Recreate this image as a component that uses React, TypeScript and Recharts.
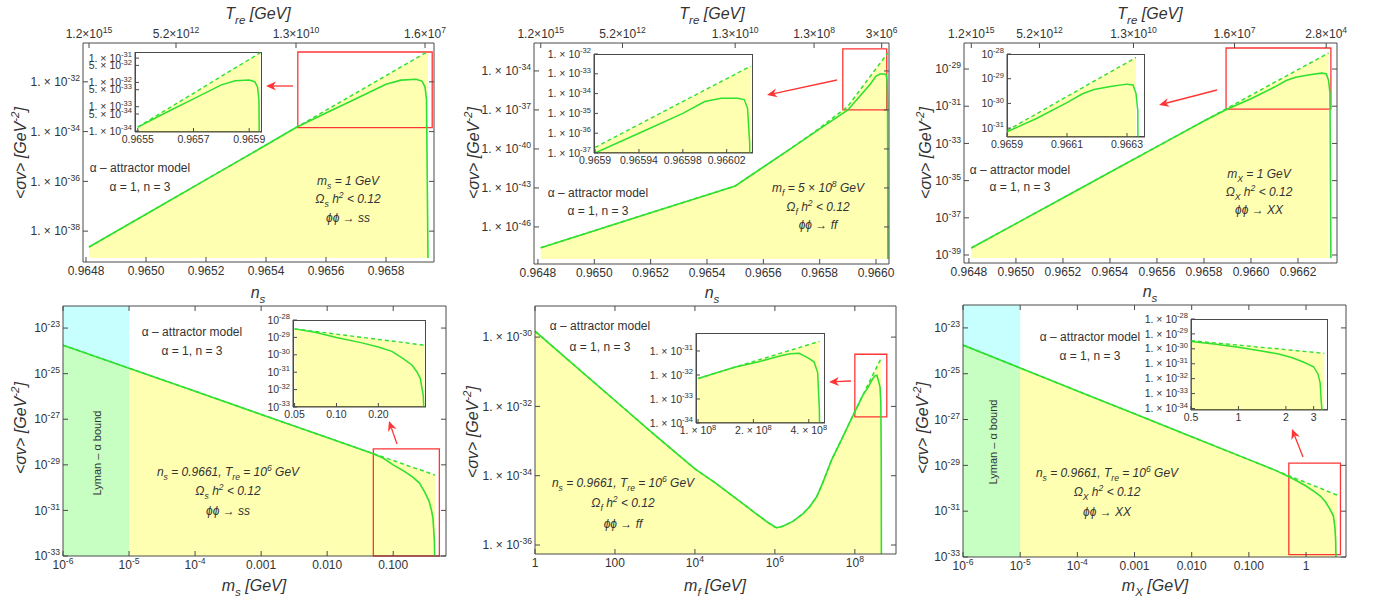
import React from "react";
import { Area, ComposedChart, Line, ReferenceArea, XAxis, YAxis } from "recharts";

const FONT = "'Liberation Sans', Arial, sans-serif";
const GREEN = "#30e030";
const RED = "#ff3535";
const FRAME = "#4a4a4a";
const INK = "#333";

// (a) phi phi -> ss, <sigma v> against n_s
const nsA = [0.96481, 0.965, 0.9652, 0.9654, 0.9655, 0.9656, 0.9657, 0.9658, 0.96585, 0.9659, 0.96592, 0.96593, 0.965935, 0.96594];
const envA = [2.29e-39, 4.79e-38, 1.17e-36, 2.88e-35, 1.45e-34, 7.24e-34, 3.55e-33, 1.78e-32, 3.98e-32, 8.71e-32, 1.2e-31, 1.41e-31, 1.51e-31, 1.66e-31];
const solA = [2.29e-39, 4.79e-38, 1.17e-36, 2.88e-35, 1.45e-34, 5.62e-34, 2.09e-33, 7.94e-33, 1.17e-32, 1.26e-32, 1.07e-32, 6.31e-33, 2.0e-33, 8.3e-40];

// (b) phi phi -> ff, against n_s
const nsB = [0.96481, 0.965, 0.9652, 0.9654, 0.9655, 0.9656, 0.9657, 0.9658, 0.9659, 0.96594, 0.96598, 0.966, 0.966015, 0.96603, 0.966036, 0.966039, 0.966041, 0.966042];
const envB = [2.51e-48, 5.13e-47, 1.23e-45, 2.88e-44, 1.41e-43, 4.07e-42, 1.17e-40, 3.98e-39, 1.91e-37, 2.75e-36, 3.98e-35, 1.51e-34, 4.07e-34, 1.1e-33, 1.66e-33, 2.0e-33, 2.14e-33, 2.29e-33];
const solB = [2.51e-48, 5.13e-47, 1.23e-45, 2.88e-44, 1.41e-43, 4.07e-42, 1.17e-40, 3.47e-39, 1.0e-37, 1.0e-36, 1.0e-35, 3.98e-35, 5.89e-35, 5.89e-35, 5.01e-35, 1.86e-35, 3.16e-37, 3.47e-49];

// (c) phi phi -> XX, against n_s
const nsC = [0.96481, 0.965, 0.9652, 0.9654, 0.9656, 0.9658, 0.9659, 0.966, 0.9661, 0.96615, 0.96619, 0.96625, 0.9663, 0.96632, 0.96633, 0.966336, 0.96634];
const envC = [2.4e-39, 4.9e-38, 1.17e-36, 2.82e-35, 6.76e-34, 1.62e-32, 7.94e-32, 3.89e-31, 1.91e-30, 4.17e-30, 7.94e-30, 2.04e-29, 4.47e-29, 6.17e-29, 7.24e-29, null, null];
const solC = [2.4e-39, 4.9e-38, 1.17e-36, 2.82e-35, 6.76e-34, 1.62e-32, 7.08e-32, 2.51e-31, 1.07e-30, 2.4e-30, 3.63e-30, 4.9e-30, 6.03e-30, 5.62e-30, 2.51e-30, 5.01e-31, 6.9e-40];

// (d) phi phi -> ss, against m_s [GeV]
const mD = [1e-6, 1e-5, 1e-4, 1e-3, 0.01, 0.05, 0.07, 0.1, 0.15, 0.2, 0.25, 0.3, 0.35, 0.38, 0.4, 0.42, 0.43];
const envD = [1.78e-24, 1.74e-25, 1.7e-26, 1.62e-27, 1.58e-28, 3.09e-29, 2.19e-29, 1.55e-29, 1.02e-29, 7.59e-30, 6.17e-30, 5.13e-30, 4.37e-30, 3.98e-30, 3.8e-30, 3.63e-30, 3.55e-30];
const solD = [1.78e-24, 1.74e-25, 1.7e-26, 1.62e-27, 1.58e-28, 3.09e-29, 2.0e-29, 1.0e-29, 5.01e-30, 2.82e-30, 1.58e-30, 6.31e-31, 2.51e-31, 1.0e-31, 4.47e-32, 5.01e-33, 1e-34];

// (e) phi phi -> ff, against m_f [GeV]
const mE = [1, 10, 100, 1e3, 1e4, 3.16e4, 1e5, 3.16e5, 6.31e5, 1e6, 1.12e6, 1.58e6, 2.82e6, 5.01e6, 7.5e6, 1.12e7, 1.58e7, 2.63e7, 5.01e7, 1e8, 1.58e8, 2.14e8, 2.51e8, 2.82e8, 3.16e8, 3.55e8, 3.98e8, 4.27e8, 4.47e8, 4.57e8, 4.62e8];
const envE = [1.48e-30, 1.48e-31, 1.48e-32, 1.48e-33, 1.58e-34, 6.31e-35, 2.34e-35, 8.51e-36, 4.68e-36, 3.31e-36, 3.16e-36, 3.47e-36, 4.79e-36, 7.94e-36, 1.29e-35, 2.51e-35, 6.31e-35, 2.88e-34, 1.32e-33, 7.08e-33, 2.09e-32, 4.27e-32, 6.17e-32, 8.13e-32, 1.05e-31, 1.38e-31, 1.82e-31, 2.14e-31, 2.4e-31, 2.51e-31, null];
const solE = [1.48e-30, 1.48e-31, 1.48e-32, 1.48e-33, 1.58e-34, 6.31e-35, 2.34e-35, 8.51e-36, 4.68e-36, 3.31e-36, 3.16e-36, 3.47e-36, 4.79e-36, 7.94e-36, 1.29e-35, 2.51e-35, 6.31e-35, 2.88e-34, 1.32e-33, 7.08e-33, 2.09e-32, 3.55e-32, 5.01e-32, 6.31e-32, 7.59e-32, 7.94e-32, 5.01e-32, 3.55e-32, 1.26e-32, 3.16e-34, 1e-37];

// (f) phi phi -> XX, against m_X [GeV]
const mF = [1e-6, 1e-5, 1e-4, 1e-3, 0.01, 0.1, 0.3, 0.5, 0.7, 1, 1.4, 1.8, 2.2, 2.6, 3.0, 3.2, 3.3, 3.35, 3.4, 3.5];
const envF = [1.78e-24, 1.78e-25, 1.78e-26, 1.78e-27, 1.78e-28, 1.78e-29, 5.89e-30, 3.55e-30, 2.51e-30, 1.78e-30, 1.26e-30, 1.0e-30, 7.94e-31, 6.76e-31, 5.89e-31, 5.5e-31, 5.37e-31, 5.25e-31, 5.2e-31, 5.01e-31];
const solF = [1.78e-24, 1.78e-25, 1.78e-26, 1.78e-27, 1.78e-28, 1.78e-29, 5.89e-30, 3.16e-30, 2.09e-30, 1.26e-30, 7.08e-31, 4.47e-31, 2.51e-31, 1.26e-31, 6.31e-32, 2.0e-32, 5.01e-33, 3.16e-34, 5e-35, null];

// tick values and their labels
const nsTicksA = [0.9648, 0.965, 0.9652, 0.9654, 0.9656, 0.9658];
const nsTicksB = [0.9648, 0.965, 0.9652, 0.9654, 0.9656, 0.9658, 0.966];
const nsTicksC = [0.9648, 0.965, 0.9652, 0.9654, 0.9656, 0.9658, 0.966, 0.9662];
const treTicksA = [0.96481, 0.9651, 0.9655, 0.96593];
const treLabelsA = ["1.2×10^{15}", "5.2×10^{12}", "1.3×10^{10}", "1.6×10^{7}"];
const treTicksB = [0.96481, 0.9651, 0.9655, 0.96578, 0.96602];
const treLabelsB = ["1.2×10^{15}", "5.2×10^{12}", "1.3×10^{10}", "1.3×10^{8}", "3×10^{6}"];
const treTicksC = [0.96481, 0.9651, 0.9655, 0.96593, 0.96632];
const treLabelsC = ["1.2×10^{15}", "5.2×10^{12}", "1.3×10^{10}", "1.6×10^{7}", "2.8×10^{4}"];
const yTicksA = [1e-38, 1e-36, 1e-34, 1e-32];
const yTicksB = [1e-46, 1e-43, 1e-40, 1e-37, 1e-34];
const yTicksC = [1e-39, 1e-37, 1e-35, 1e-33, 1e-31, 1e-29];
const yTicksDF = [1e-33, 1e-31, 1e-29, 1e-27, 1e-25, 1e-23];
const yTicksE = [1e-36, 1e-34, 1e-32, 1e-30];
const mTicksD = [1e-6, 1e-5, 1e-4, 1e-3, 0.01, 0.1];
const mLabelsD = ["10^{-6}", "10^{-5}", "10^{-4}", "0.001", "0.010", "0.100"];
const mTicksE = [1, 100, 1e4, 1e6, 1e8];
const mLabelsE = ["1", "100", "10^{4}", "10^{6}", "10^{8}"];
const mTicksF = [1e-6, 1e-5, 1e-4, 1e-3, 0.01, 0.1, 1];
const mLabelsF = ["10^{-6}", "10^{-5}", "10^{-4}", "0.001", "0.010", "0.100", "1"];

// inset ticks
const inXA = [0.9655, 0.9657, 0.9659];
const inYA = [1e-34, 5e-34, 1e-33, 5e-33, 1e-32, 5e-32, 1e-31];
const inYLabelsA = ["1. × 10^{-34}", "5. × 10^{-34}", "1. × 10^{-33}", "5. × 10^{-33}", "1. × 10^{-32}", "5. × 10^{-32}", "1. × 10^{-31}"];
const inXB = [0.9659, 0.96594, 0.96598, 0.96602];
const inYB = [1e-37, 1e-36, 1e-35, 1e-34, 1e-33, 1e-32];
const inXC = [0.9659, 0.9661, 0.9663];
const inYC = [1e-31, 1e-30, 1e-29, 1e-28];
const inXD = [0.05, 0.1, 0.2];
const inXLabelsD = ["0.05", "0.10", "0.20"];
const inYD = [1e-33, 1e-32, 1e-31, 1e-30, 1e-29, 1e-28];
const inXE = [1e8, 2e8, 4e8];
const inXLabelsE = ["1. × 10^{8}", "2. × 10^{8}", "4. × 10^{8}"];
const inYE = [1e-34, 1e-33, 1e-32, 1e-31];
const inXF = [0.5, 1, 2, 3];
const inXLabelsF = ["0.5", "1", "2", "3"];
const inYF = [1e-34, 1e-33, 1e-32, 1e-31, 1e-30, 1e-29, 1e-28];

type Row = { x: number; env: number | null; sol: number | null };
const rows = (xs: number[], env: (number | null)[], sol: (number | null)[]): Row[] =>
  xs.map((x, i) => ({ x, env: env[i], sol: sol[i] }));

const expLabel = (v: number) => `10^{${Math.round(Math.log10(v))}}`;
const sciLabel = (v: number) => `1. × 10^{${Math.round(Math.log10(v))}}`;
const fixed4 = (v: number) => v.toFixed(4);

// text with _{..} and ^{..} parts
function rich(s: string, fs: number) {
  const parts = s.split(/([_^]\{[^}]*\})/).filter(Boolean);
  let shift = 0;
  return parts.map((p, k) => {
    if (p[0] === "_" || p[0] === "^") {
      const d = p[0] === "_" ? fs * 0.3 : -fs * 0.42;
      const el = (
        <tspan key={k} dy={d - shift} fontSize={fs * 0.72}>
          {p.slice(2, -1)}
        </tspan>
      );
      shift = d;
      return el;
    }
    const el = (
      <tspan key={k} dy={-shift}>
        {p}
      </tspan>
    );
    shift = 0;
    return el;
  });
}

function makeTick(values: number[], labels: string[] | null, side: "left" | "bottom" | "top", fs: number) {
  return (props: any) => {
    const { x, y, payload } = props;
    if (!labels) return <text />;
    const i = values.findIndex((v) => Math.abs(v - payload.value) <= Math.abs(v) * 1e-9);
    const label = i >= 0 ? labels[i] : "";
    let ty = y;
    let anchor = "middle";
    if (side === "left") {
      anchor = "end";
      ty = y + fs * 0.35;
    } else if (side === "bottom") {
      ty = y + fs * 0.85;
    }
    return (
      <text x={x} y={ty} textAnchor={anchor} fontSize={fs} fontFamily={FONT} fill={INK}>
        {rich(label, fs)}
      </text>
    );
  };
}

type PanelProps = {
  frame: [number, number, number, number];
  data: Row[];
  xDomain: [number, number];
  xLog?: boolean;
  xTicks: number[];
  xLabels: string[];
  yDomain: [number, number];
  yTicks: number[];
  yLabels: string[];
  topTicks?: number[];
  topLabels?: string[];
  base: number;
  box: [number, number, number, number];
  lyman?: [number, number];
};

const LW = 80;
const RW = 34;
const TH = 34;
const BH = 28;

function Panel(p: PanelProps) {
  const [fx, fy, fw, fh] = p.frame;
  const topTicks = p.topTicks ?? p.xTicks;
  const xScale = p.xLog ? "log" : "linear";
  return (
    <div style={{ position: "absolute", left: fx - LW, top: fy - TH }}>
      <ComposedChart width={fw + LW + RW} height={fh + TH + BH} data={p.data} margin={{ top: 0, right: 0, bottom: 0, left: 0 }}>
        <XAxis xAxisId="b" dataKey="x" type="number" scale={xScale} domain={p.xDomain} allowDataOverflow ticks={p.xTicks} interval={0}
          height={BH} tickSize={-5} tickMargin={8} stroke={FRAME} tick={makeTick(p.xTicks, p.xLabels, "bottom", 12)} />
        <XAxis xAxisId="t" dataKey="x" orientation="top" type="number" scale={xScale} domain={p.xDomain} allowDataOverflow ticks={topTicks} interval={0}
          height={TH} tickSize={-5} tickMargin={10} stroke={FRAME} tick={makeTick(topTicks, p.topLabels ?? null, "top", 12)} />
        <YAxis yAxisId="l" type="number" scale="log" domain={p.yDomain} allowDataOverflow ticks={p.yTicks} interval={0}
          width={LW} tickSize={-5} tickMargin={8} stroke={FRAME} tick={makeTick(p.yTicks, p.yLabels, "left", 12)} />
        <YAxis yAxisId="r" orientation="right" type="number" scale="log" domain={p.yDomain} allowDataOverflow ticks={p.yTicks} interval={0}
          width={RW} tickSize={-5} tickMargin={8} stroke={FRAME} tick={makeTick(p.yTicks, null, "left", 12)} />
        <Area xAxisId="b" yAxisId="l" dataKey="env" type="linear" stroke="none" fill="#ffff00" fillOpacity={0.3} baseValue={p.base} isAnimationActive={false} />
        {p.lyman && (
          <ReferenceArea xAxisId="b" yAxisId="l" x1={p.lyman[0]} x2={p.lyman[1]} fill="#00ffff" fillOpacity={0.22} stroke="none" />
        )}
        <Line xAxisId="b" yAxisId="l" dataKey="env" type="linear" stroke={GREEN} strokeWidth={1.5} strokeDasharray="4 3" dot={false} isAnimationActive={false} />
        <Line xAxisId="b" yAxisId="l" dataKey="sol" type="linear" stroke={GREEN} strokeWidth={1.6} dot={false} isAnimationActive={false} />
        <Line xAxisId="t" yAxisId="r" dataKey="sol" stroke="none" dot={false} activeDot={false} isAnimationActive={false} />
        <ReferenceArea xAxisId="b" yAxisId="l" x1={p.box[0]} x2={p.box[1]} y1={p.box[2]} y2={p.box[3]} fill="none" stroke={RED} strokeWidth={1.3} ifOverflow="visible" />
      </ComposedChart>
    </div>
  );
}

type InsetProps = {
  frame: [number, number, number, number];
  data: Row[];
  xDomain: [number, number];
  xLog?: boolean;
  xTicks: number[];
  xLabels: string[];
  yDomain: [number, number];
  yTicks: number[];
  yLabels: string[];
};

const ILW = 70;
const ITH = 12;
const IRW = 22;
const IBH = 20;

function Inset(p: InsetProps) {
  const [fx, fy, fw, fh] = p.frame;
  return (
    <>
      <div style={{ position: "absolute", left: fx, top: fy, width: fw, height: fh, background: "#fff", border: `1px solid ${FRAME}`, boxSizing: "border-box" }} />
      <div style={{ position: "absolute", left: fx - ILW, top: fy - ITH }}>
        <ComposedChart width={fw + ILW + IRW} height={fh + ITH + IBH} data={p.data} margin={{ top: ITH, right: IRW, bottom: 0, left: 0 }}>
          <XAxis xAxisId="b" dataKey="x" type="number" scale={p.xLog ? "log" : "linear"} domain={p.xDomain} allowDataOverflow ticks={p.xTicks} interval={0}
            height={IBH} tickSize={-4} tickMargin={6} stroke={FRAME} tick={makeTick(p.xTicks, p.xLabels, "bottom", 10.5)} />
          <YAxis yAxisId="l" type="number" scale="log" domain={p.yDomain} allowDataOverflow ticks={p.yTicks} interval={0}
            width={ILW} tickSize={-4} tickMargin={7} stroke={FRAME} tick={makeTick(p.yTicks, p.yLabels, "left", 10.5)} />
          <Area xAxisId="b" yAxisId="l" dataKey="env" type="linear" stroke="none" fill="#ffff00" fillOpacity={0.3} baseValue={p.yDomain[0]} isAnimationActive={false} />
          <Line xAxisId="b" yAxisId="l" dataKey="env" type="linear" stroke={GREEN} strokeWidth={1.4} strokeDasharray="4 3" dot={false} isAnimationActive={false} />
          <Line xAxisId="b" yAxisId="l" dataKey="sol" type="linear" stroke={GREEN} strokeWidth={1.5} dot={false} isAnimationActive={false} />
        </ComposedChart>
      </div>
    </>
  );
}

const dataA = rows(nsA, envA, solA);
const dataB = rows(nsB, envB, solB);
const dataC = rows(nsC, envC, solC);
const dataD = rows(mD, envD, solD);
const dataE = rows(mE, envE, solE);
const dataF = rows(mF, envF, solF);
const from = (d: Row[], x0: number) => d.filter((r) => r.x >= x0 * (1 - 1e-9));

// annotation text: [x, y, text, italic]
const NOTES: [number, number, string, boolean][] = [
  [140, 172, "α – attractor model", false],
  [140, 191, "α = 1,  n = 3", false],
  [348, 185, "m_{s} = 1 GeV", true],
  [348, 203, "Ω_{s} h^{2} < 0.12", true],
  [348, 222, "ϕϕ → ss", true],
  [598, 197, "α – attractor model", false],
  [598, 215, "α = 1,  n = 3", false],
  [818, 192, "m_{f} = 5 × 10^{8} GeV", true],
  [818, 211, "Ω_{f} h^{2} < 0.12", true],
  [818, 229, "ϕϕ → ff", true],
  [1020, 174, "α – attractor model", false],
  [1020, 191, "α = 1,  n = 3", false],
  [1259, 178, "m_{X} = 1 GeV", true],
  [1259, 196, "Ω_{X} h^{2} < 0.12", true],
  [1259, 214, "ϕϕ → XX", true],
  [192, 336, "α – attractor model", false],
  [192, 355, "α = 1,  n = 3", false],
  [228, 476, "n_{s} = 0.9661,  T_{re} = 10^{6} GeV", true],
  [228, 495, "Ω_{s} h^{2} < 0.12", true],
  [228, 515, "ϕϕ → ss", true],
  [600, 330, "α – attractor model", false],
  [600, 351, "α = 1,  n = 3", false],
  [623, 487, "n_{s} = 0.9661,  T_{re} = 10^{6} GeV", true],
  [623, 507, "Ω_{f} h^{2} < 0.12", true],
  [623, 528, "ϕϕ → ff", true],
  [1090, 341, "α – attractor model", false],
  [1090, 360, "α = 1,  n = 3", false],
  [1107, 477, "n_{s} = 0.9661,  T_{re} = 10^{6} GeV", true],
  [1107, 496, "Ω_{X} h^{2} < 0.12", true],
  [1107, 516, "ϕϕ → XX", true],
];

const X_TITLES: [number, number, string][] = [
  [258, 19, "T_{re} [GeV]"],
  [712, 19, "T_{re} [GeV]"],
  [1150, 19, "T_{re} [GeV]"],
  [258, 298, "n_{s}"],
  [712, 298, "n_{s}"],
  [1150, 297, "n_{s}"],
  [254, 591, "m_{s} [GeV]"],
  [715, 591, "m_{f} [GeV]"],
  [1155, 591, "m_{X} [GeV]"],
];

const Y_TITLES: [number, number][] = [
  [26, 153],
  [479, 153],
  [931, 153],
  [26, 428],
  [478, 432],
  [928, 428],
];

const ARROWS: [number, number, number, number][] = [
  [293, 86, 266, 86],
  [837, 80, 767, 95],
  [1217, 90, 1159, 105],
  [397, 444, 389, 421],
  [851, 381, 829, 382],
  [1303, 457, 1292, 429],
];

function Arrow({ a }: { a: [number, number, number, number] }) {
  const [x1, y1, x2, y2] = a;
  const ang = Math.atan2(y2 - y1, x2 - x1);
  const L = 10;
  const W = 4.5;
  const c = Math.cos(ang);
  const s = Math.sin(ang);
  const bx = x2 - L * c;
  const by = y2 - L * s;
  const nx = bx + 3 * c;
  const ny = by + 3 * s;
  return (
    <g>
      <line x1={x1} y1={y1} x2={nx} y2={ny} stroke={RED} strokeWidth={1.3} />
      <polygon points={`${x2},${y2} ${bx - s * W},${by + c * W} ${nx},${ny} ${bx + s * W},${by - c * W}`} fill={RED} />
    </g>
  );
}

function Overlay() {
  return (
    <svg width={1373} height={602} style={{ position: "absolute", left: 0, top: 0, pointerEvents: "none" }}>
      {X_TITLES.map(([x, y, t], i) => (
        <text key={`xt${i}`} x={x} y={y} textAnchor="middle" fontSize={16} fontStyle="italic" fontFamily={FONT} fill={INK}>
          {rich(t, 16)}
        </text>
      ))}
      {Y_TITLES.map(([x, y], i) => (
        <text key={`yt${i}`} transform={`translate(${x},${y}) rotate(-90)`} textAnchor="middle" fontSize={16} fontStyle="italic" fontFamily={FONT} fill={INK}>
          {rich("<σv> [GeV^{-2}]", 16)}
        </text>
      ))}
      {NOTES.map(([x, y, t, it], i) => (
        <text key={`n${i}`} x={x} y={y} textAnchor="middle" fontSize={12} fontStyle={it ? "italic" : "normal"} fontFamily={FONT} fill={INK}>
          {rich(t, 12)}
        </text>
      ))}
      <text transform="translate(101,453) rotate(-90)" textAnchor="middle" fontSize={11} fontFamily={FONT} fill={INK}>
        Lyman – α bound
      </text>
      <text transform="translate(997,442) rotate(-90)" textAnchor="middle" fontSize={11} fontFamily={FONT} fill={INK}>
        Lyman – α bound
      </text>
      {ARROWS.map((a, i) => (
        <Arrow key={`a${i}`} a={a} />
      ))}
    </svg>
  );
}

export default function App() {
  return (
    <div style={{ position: "absolute", left: 0, top: 0, width: 1373, height: 602, background: "#fff", overflow: "hidden" }}>
      <Panel frame={[83, 43, 351, 219]} data={dataA} xDomain={[0.96479, 0.96596]} xTicks={nsTicksA} xLabels={nsTicksA.map(fixed4)}
        yDomain={[5.75e-40, 3.63e-31]} yTicks={yTicksA} yLabels={yTicksA.map(sciLabel)} topTicks={treTicksA} topLabels={treLabelsA}
        base={8.3e-40} box={[0.965506, 0.965954, 1.45e-34, 1.58e-31]} />
      <Panel frame={[534, 43, 355, 221]} data={dataB} xDomain={[0.964786, 0.966046]} xTicks={nsTicksB} xLabels={nsTicksB.map(fixed4)}
        yDomain={[1.41e-49, 1.41e-32]} yTicks={yTicksB} yLabels={yTicksB.map(sciLabel)} topTicks={treTicksB} topLabels={treLabelsB}
        base={3.47e-49} box={[0.965882, 0.966038, 1e-37, 5.0e-33]} />
      <Panel frame={[964, 43, 373, 220]} data={dataC} xDomain={[0.964779, 0.966366]} xTicks={nsTicksC} xLabels={nsTicksC.map(fixed4)}
        yDomain={[3.72e-40, 2.51e-28]} yTicks={yTicksC} yLabels={yTicksC.map(expLabel)} topTicks={treTicksC} topLabels={treLabelsC}
        base={6.9e-40} box={[0.965894, 0.96634, 6.9e-32, 1.35e-28]} />
      <Panel frame={[63, 306, 383, 250]} data={dataD} xDomain={[1e-6, 0.63]} xLog xTicks={mTicksD} xLabels={mLabelsD}
        yDomain={[1e-33, 9.3e-23]} yTicks={yTicksDF} yLabels={yTicksDF.map(expLabel)} base={1e-33}
        box={[0.05, 0.5, 1e-33, 5.0e-29]} lyman={[1e-6, 1e-5]} />
      <Panel frame={[535, 306, 361, 248]} data={dataE} xDomain={[1, 1.07e9]} xLog xTicks={mTicksE} xLabels={mLabelsE}
        yDomain={[5.5e-37, 7.9e-30]} yTicks={yTicksE} yLabels={yTicksE.map(sciLabel)} base={5.5e-37}
        box={[1e8, 6.3e8, 5.0e-33, 3.2e-31]} />
      <Panel frame={[963, 305, 383, 252]} data={dataF} xDomain={[1e-6, 5.0]} xLog xTicks={mTicksF} xLabels={mLabelsF}
        yDomain={[1e-33, 1e-22]} yTicks={yTicksDF} yLabels={yTicksDF.map(expLabel)} base={1e-33}
        box={[0.5, 4.0, 1.26e-33, 1.26e-29]} lyman={[1e-6, 1e-5]} />

      <Inset frame={[135, 52, 127, 80]} data={from(dataA, 0.9655)} xDomain={[0.96549, 0.965946]} xTicks={inXA} xLabels={inXA.map(fixed4)}
        yDomain={[9.1e-35, 1.78e-31]} yTicks={inYA} yLabels={inYLabelsA} />
      <Inset frame={[594, 54, 159, 99]} data={from(dataB, 0.9659)} xDomain={[0.965899, 0.966044]} xTicks={inXB} xLabels={inXB.map((v) => v.toFixed(5).replace(/0$/, ""))}
        yDomain={[1e-37, 1e-32]} yTicks={inYB} yLabels={inYB.map(sciLabel)} />
      <Inset frame={[1007, 54, 138, 83]} data={from(dataC, 0.9659)} xDomain={[0.9659, 0.96636]} xTicks={inXC} xLabels={inXC.map(fixed4)}
        yDomain={[4.37e-32, 1e-28]} yTicks={inYC} yLabels={inYC.map(expLabel)} />
      <Inset frame={[293, 320, 133, 87]} data={from(dataD, 0.05)} xDomain={[0.0487, 0.44]} xLog xTicks={inXD} xLabels={inXLabelsD}
        yDomain={[1e-33, 1e-28]} yTicks={inYD} yLabels={inYD.map(expLabel)} />
      <Inset frame={[696, 333, 129, 90]} data={from(dataE, 1e8)} xDomain={[0.975e8, 4.9e8]} xLog xTicks={inXE} xLabels={inXLabelsE}
        yDomain={[1e-34, 5.6e-31]} yTicks={inYE} yLabels={inYE.map(sciLabel)} />
      <Inset frame={[1191, 319, 137, 91]} data={from(dataF, 0.5)} xDomain={[0.5, 3.7]} xLog xTicks={inXF} xLabels={inXLabelsF}
        yDomain={[7.9e-35, 1e-28]} yTicks={inYF} yLabels={inYF.map(sciLabel)} />

      <Overlay />
    </div>
  );
}
